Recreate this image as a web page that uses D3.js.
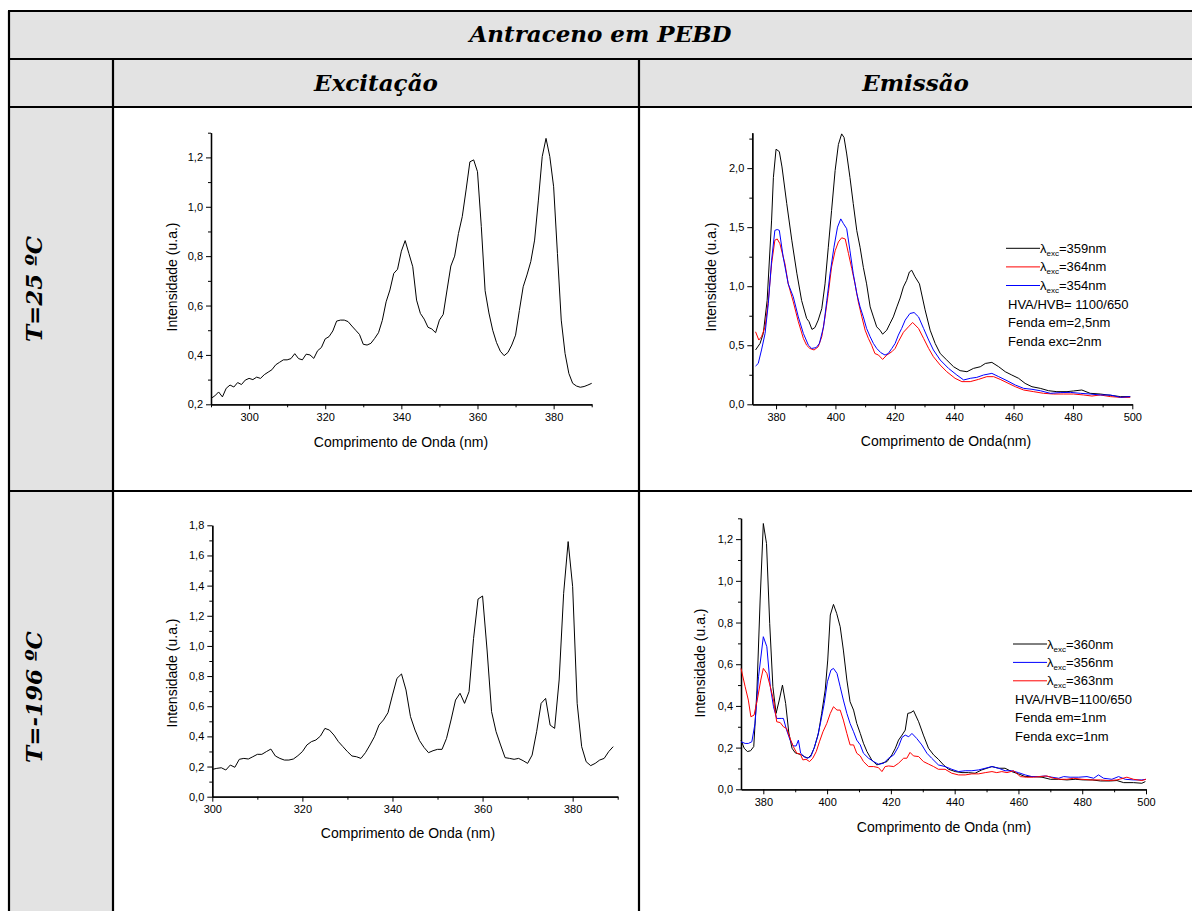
<!DOCTYPE html>
<html>
<head>
<meta charset="utf-8">
<script src="https://cdn.jsdelivr.net/npm/d3@7"></script>
<style>
  body { margin: 0; background: #fff; }
  svg { display: block; }
</style>
</head>
<body>
<svg id="fig" width="1192" height="911"></svg>
<script>
// ---------- Excitation spectrum, T = 25 ºC (wavelength nm, intensity u.a.) ----------
const exc25 = [
  [290,0.224],[291,0.234],[292,0.25],[293,0.23],[294,0.265],[295,0.278],[296,0.27],[297,0.288],[298,0.28],[299,0.298],
  [300,0.305],[301,0.3],[302,0.31],[303,0.305],[304,0.32],[305,0.33],[306,0.34],[307,0.36],[308,0.37],[309,0.38],
  [310,0.38],[311,0.385],[312,0.405],[313,0.385],[314,0.38],[315,0.403],[316,0.4],[317,0.386],[318,0.417],[319,0.43],
  [320,0.465],[321,0.474],[322,0.497],[323,0.537],[324,0.541],[325,0.541],[326,0.535],[327,0.517],[328,0.5],[329,0.483],
  [330,0.443],[331,0.44],[332,0.447],[333,0.467],[334,0.49],[335,0.54],[336,0.615],[337,0.663],[338,0.73],[339,0.747],
  [340,0.82],[341,0.863],[342,0.81],[343,0.757],[344,0.622],[345,0.568],[346,0.545],[347,0.512],[348,0.505],[349,0.49],
  [350,0.541],[351,0.564],[352,0.663],[353,0.76],[354,0.8],[355,0.892],[356,0.96],[357,1.068],[358,1.182],[359,1.19],
  [360,1.142],[361,0.92],[362,0.66],[363,0.57],[364,0.5],[365,0.45],[366,0.415],[367,0.397],[368,0.41],[369,0.44],
  [370,0.48],[371,0.58],[372,0.676],[373,0.724],[374,0.778],[375,0.865],[376,1.027],[377,1.203],[378,1.277],[379,1.203],
  [380,1.081],[381,0.811],[382,0.541],[383,0.406],[384,0.325],[385,0.285],[386,0.274],[387,0.269],[388,0.272],[389,0.278],
  [390,0.285]
];

// ---------- Emission spectra, T = 25 ºC ----------
const em25_359 = [
  [373.1,0.46],[374.6,0.515],[375.7,0.6],[377,0.88],[378.5,1.56],[379.1,1.92],[380,2.16],[381.1,2.14],[382,2.01],[383.6,1.7],
  [385.3,1.39],[387,1.11],[388.6,0.88],[390.3,0.727],[391.1,0.7],[392.1,0.634],[393.1,0.65],[394.2,0.713],[395.4,0.81],[396.5,1.02],
  [397.6,1.33],[398.7,1.64],[399.9,1.98],[401,2.2],[402.1,2.29],[402.9,2.26],[403.8,2.12],[404.9,1.92],[406,1.7],[407.2,1.47],
  [408.3,1.33],[409.4,1.16],[410.5,1.02],[411.7,0.825],[412.8,0.74],[413.9,0.656],[415,0.628],[415.9,0.594],[417.3,0.628],[418.4,0.685],
  [419.5,0.74],[420.7,0.825],[421.8,0.9],[422.9,0.994],[424,1.05],[424.9,1.12],[425.7,1.135],[426.8,1.08],[428.3,1.02],[430.2,0.8],
  [431.9,0.628],[433.6,0.515],[435.3,0.43],[437.5,0.375],[439.8,0.318],[442,0.285],[444.3,0.276],[446.5,0.304],[448.8,0.318],[450.5,0.346],
  [452.7,0.355],[455,0.318],[457.2,0.276],[459.4,0.248],[461.7,0.22],[463.9,0.177],[466.2,0.149],[469,0.135],[471.8,0.115],[474.6,0.107],
  [478,0.107],[480.2,0.113],[483,0.121],[485.8,0.093],[489.2,0.087],[492.6,0.076],[496,0.065],[499.3,0.065]
];
const em25_364 = [
  [373.1,0.614],[374.2,0.544],[375.1,0.572],[376.3,0.656],[377.4,0.88],[378.5,1.19],[379.6,1.39],[380.4,1.4],[381.3,1.36],[383,1.19],
  [384.1,1.02],[385.8,0.868],[387.5,0.7],[389.2,0.558],[390.3,0.5],[391.4,0.473],[392.8,0.46],[394.2,0.487],[395.4,0.572],[396.5,0.74],
  [397.6,0.938],[398.7,1.163],[399.9,1.3],[401,1.375],[402.1,1.41],[403.3,1.4],[404.4,1.276],[405.5,1.15],[406.6,1.02],[407.7,0.868],
  [408.9,0.74],[410,0.628],[411.1,0.558],[412.2,0.5],[413.3,0.43],[414.5,0.417],[415.9,0.38],[417.3,0.417],[419,0.445],[420.1,0.473],
  [421.2,0.53],[422.9,0.61],[424.6,0.656],[426,0.693],[428,0.642],[429.7,0.558],[431.4,0.473],[433,0.403],[435.3,0.332],[437.5,0.276],
  [440.3,0.22],[442.6,0.192],[445.4,0.192],[448.2,0.211],[451,0.234],[453.3,0.234],[455.5,0.211],[457.8,0.183],[460.6,0.149],[463.4,0.121],
  [466.8,0.107],[470.1,0.093],[473.5,0.087],[476.9,0.087],[480.2,0.087],[483.6,0.079],[486.4,0.07],[489.2,0.079],[492.6,0.065],[496,0.059],
  [499.3,0.059]
];
const em25_354 = [
  [373.1,0.324],[374,0.346],[375.1,0.46],[376.3,0.6],[377.4,0.853],[378.5,1.22],[379.6,1.473],[380.4,1.48],[381.1,1.473],[382.4,1.248],
  [384.1,1.02],[385.8,0.91],[387.5,0.74],[389.2,0.6],[390.9,0.5],[392,0.473],[393.5,0.48],[394.6,0.515],[396,0.656],[397.1,0.88],
  [398.2,1.107],[399.5,1.33],[400.7,1.5],[401.8,1.57],[402.7,1.53],[403.8,1.487],[404.9,1.3],[406,1.107],[407.2,0.938],[408.3,0.825],
  [409.4,0.74],[410.5,0.642],[411.7,0.572],[412.8,0.515],[413.9,0.473],[415.3,0.437],[416.7,0.417],[417.8,0.43],[419,0.473],[420.1,0.515],
  [421.2,0.586],[422.3,0.642],[423.5,0.713],[425.1,0.769],[426.5,0.777],[428,0.74],[429.7,0.642],[431.4,0.544],[433,0.46],[435.3,0.375],
  [438.1,0.304],[440.9,0.248],[443.2,0.206],[445.4,0.22],[447.6,0.228],[449.9,0.248],[452.7,0.262],[455,0.234],[457.8,0.2],[460.6,0.163],
  [463.4,0.135],[466.2,0.127],[469,0.115],[472.4,0.093],[475.7,0.099],[479.1,0.101],[482.5,0.093],[485.8,0.087],[489.2,0.079],[492.6,0.079],
  [496,0.059],[499.3,0.065]
];

// ---------- Excitation spectrum, T = -196 ºC ----------
const exc196 = [
  [300,0.181],[301,0.188],[302,0.192],[303,0.177],[304,0.21],[305,0.195],[306,0.248],[307,0.254],[308,0.25],[309,0.265],
  [310,0.281],[311,0.281],[312,0.299],[313,0.316],[314,0.27],[315,0.254],[316,0.243],[317,0.243],[318,0.25],[319,0.272],
  [320,0.299],[321,0.343],[322,0.365],[323,0.376],[324,0.402],[325,0.453],[326,0.442],[327,0.409],[328,0.365],[329,0.332],
  [330,0.299],[331,0.27],[332,0.265],[333,0.254],[334,0.292],[335,0.343],[336,0.398],[337,0.475],[338,0.509],[339,0.557],
  [340,0.674],[341,0.785],[342,0.814],[343,0.708],[344,0.531],[345,0.442],[346,0.372],[347,0.327],[348,0.292],[349,0.305],
  [350,0.314],[351,0.314],[352,0.387],[353,0.509],[354,0.641],[355,0.686],[356,0.619],[357,0.697],[358,1.05],[359,1.311],
  [360,1.331],[361,0.973],[362,0.564],[363,0.431],[364,0.343],[365,0.259],[366,0.254],[367,0.248],[368,0.254],[369,0.239],
  [370,0.221],[371,0.276],[372,0.431],[373,0.619],[374,0.652],[375,0.475],[376,0.453],[377,0.774],[378,1.349],[379,1.692],
  [380,1.393],[381,0.619],[382,0.332],[383,0.232],[384,0.206],[385,0.221],[386,0.243],[387,0.254],[388,0.299],[389,0.332]
];

// ---------- Emission spectra, T = -196 ºC ----------
const em196_360 = [
  [373,0.236],[374,0.197],[375,0.181],[376,0.185],[377,0.205],[378,0.476],[379,0.908],[380,1.275],[381,1.179],[382,0.796],
  [383,0.492],[384,0.364],[385,0.428],[386,0.5],[387,0.412],[388,0.27],[389,0.197],[390,0.175],[391,0.17],[392,0.165],
  [393,0.155],[394,0.15],[395,0.165],[396,0.2],[397.3,0.27],[398.3,0.364],[399.4,0.476],[400.2,0.62],[401,0.836],[402,0.887],
  [403,0.844],[404.1,0.78],[405.1,0.668],[406.2,0.524],[407.2,0.42],[408.3,0.38],[409.3,0.316],[410.4,0.268],[411.4,0.221],[412.5,0.181],
  [414,0.141],[415.6,0.117],[417.2,0.125],[418.8,0.133],[420.3,0.165],[421.4,0.197],[422.4,0.236],[423.5,0.26],[424.5,0.284],[425.3,0.364],
  [426.3,0.368],[427.1,0.377],[428.7,0.324],[430.2,0.26],[431.8,0.197],[433.4,0.165],[434.9,0.144],[436.5,0.117],[438.1,0.096],[440.2,0.085],
  [442.3,0.08],[444.3,0.08],[446.4,0.077],[448.5,0.093],[450.1,0.101],[451.7,0.109],[453.8,0.101],[455.8,0.101],[457.9,0.085],[460,0.074],
  [462.1,0.061],[464.7,0.061],[467.4,0.058],[470,0.048],[472.6,0.048],[475.2,0.045],[477.8,0.048],[480.4,0.045],[483.1,0.045],[485.7,0.04],
  [488.8,0.04],[490.9,0.042],[493,0.032],[496.1,0.032],[498.7,0.029],[499.8,0.037]
];
const em196_356 = [
  [373,0.228],[374.3,0.22],[375.3,0.22],[376.4,0.228],[377.4,0.316],[378.5,0.54],[380,0.732],[381.1,0.684],[382.2,0.492],[383.2,0.396],
  [384.2,0.34],[385.8,0.34],[386.3,0.34],[387.3,0.284],[388.4,0.236],[389.4,0.208],[390.3,0.208],[391,0.236],[391.7,0.173],[392.8,0.157],
  [393.8,0.149],[394.9,0.157],[395.9,0.197],[397,0.252],[398,0.324],[399.1,0.412],[400.1,0.516],[401.2,0.572],[402,0.58],[403.1,0.556],
  [404.1,0.492],[405.1,0.428],[406.2,0.364],[407.2,0.316],[408.3,0.276],[409.3,0.236],[410.4,0.213],[411.4,0.173],[413,0.149],[414.6,0.133],
  [416.1,0.12],[417.7,0.125],[419.3,0.149],[420.9,0.165],[422.4,0.205],[423.5,0.249],[424.5,0.26],[425.6,0.252],[426.6,0.268],[428.1,0.244],
  [429.7,0.213],[431.3,0.173],[432.8,0.149],[434.9,0.117],[437,0.109],[439.1,0.096],[441.2,0.085],[443.3,0.089],[445.4,0.089],[447.5,0.093],
  [449.6,0.101],[451.7,0.109],[453.8,0.101],[455.8,0.089],[457.9,0.089],[460,0.08],[462.1,0.069],[464.2,0.061],[466.3,0.061],[468.4,0.064],
  [470.5,0.058],[472.6,0.053],[474.2,0.061],[476.2,0.058],[478.9,0.058],[481.5,0.061],[483.6,0.053],[485.1,0.069],[486.7,0.053],[489.3,0.048],
  [491.4,0.061],[493.5,0.048],[496.1,0.045],[498.7,0.045],[500,0.048]
];
const em196_363 = [
  [373,0.58],[374.3,0.492],[375.3,0.428],[376.1,0.348],[377.1,0.356],[378.1,0.428],[379.2,0.524],[380,0.58],[381.1,0.556],[382.2,0.492],
  [383.2,0.428],[384.2,0.324],[385.3,0.32],[386.3,0.3],[387.3,0.292],[388.4,0.244],[389.4,0.205],[390.5,0.173],[391.6,0.169],[392.4,0.141],
  [393.4,0.144],[394.5,0.133],[395.5,0.149],[396.6,0.181],[397.6,0.228],[398.7,0.276],[399.9,0.316],[401,0.364],[402,0.396],[403.1,0.38],
  [404.1,0.38],[405.1,0.332],[406.2,0.268],[407.2,0.213],[408.3,0.213],[409.3,0.173],[410.4,0.16],[411.4,0.133],[413,0.109],[414.6,0.109],
  [416.1,0.104],[417.2,0.085],[418.2,0.109],[419.3,0.112],[420.9,0.109],[422.4,0.125],[424,0.149],[425,0.149],[426,0.177],[427.1,0.16],
  [428.7,0.157],[430.2,0.133],[431.8,0.121],[433.4,0.109],[434.9,0.096],[437,0.096],[439.1,0.077],[441.2,0.069],[443.3,0.069],[445.4,0.074],
  [447.5,0.074],[449.6,0.08],[451.7,0.085],[453.2,0.08],[454.8,0.085],[456.4,0.08],[458.5,0.089],[460.6,0.061],[462.6,0.058],[464.7,0.058],
  [466.8,0.061],[468.9,0.064],[471,0.053],[473.1,0.048],[475.2,0.048],[477.3,0.053],[479.9,0.048],[482.5,0.045],[485.7,0.045],[488.3,0.042],
  [490.9,0.045],[494,0.058],[496.1,0.048],[498.7,0.042],[500,0.048]
];

// ---------- Axis ticks ----------
const exc25XTicks = [300, 320, 340, 360, 380];
const exc25XMinor = [290, 310, 330, 350, 370, 390];
const exc25YTicks = [0.2, 0.4, 0.6, 0.8, 1.0, 1.2];
const exc25YMinor = [0.3, 0.5, 0.7, 0.9, 1.1, 1.3];

const em25XTicks = [380, 400, 420, 440, 460, 480, 500];
const em25XMinor = [390, 410, 430, 450, 470, 490];
const em25YTicks = [0.0, 0.5, 1.0, 1.5, 2.0];
const em25YMinor = [0.25, 0.75, 1.25, 1.75, 2.25];

const exc196XTicks = [300, 320, 340, 360, 380];
const exc196XMinor = [310, 330, 350, 370, 390];
const exc196YTicks = [0.0, 0.2, 0.4, 0.6, 0.8, 1.0, 1.2, 1.4, 1.6, 1.8];
const exc196YMinor = [0.1, 0.3, 0.5, 0.7, 0.9, 1.1, 1.3, 1.5, 1.7];

const em196XTicks = [380, 400, 420, 440, 460, 480, 500];
const em196XMinor = [390, 410, 430, 450, 470, 490];
const em196YTicks = [0.0, 0.2, 0.4, 0.6, 0.8, 1.0, 1.2];
const em196YMinor = [0.1, 0.3, 0.5, 0.7, 0.9, 1.1, 1.3];

// ---------- Texts ----------
const tableTitle = "Antraceno em PEBD";
const columnTitles = ["Excitação", "Emissão"];
const rowTitles = ["T=25 ºC", "T=-196 ºC"];
const legend25 = [
  { label: "=359nm", color: "#000000", data: em25_359 },
  { label: "=364nm", color: "#ff0000", data: em25_364 },
  { label: "=354nm", color: "#0000ff", data: em25_354 }
];
const notes25 = ["HVA/HVB= 1100/650", "Fenda em=2,5nm", "Fenda exc=2nm"];
const legend196 = [
  { label: "=360nm", color: "#000000", data: em196_360 },
  { label: "=356nm", color: "#0000ff", data: em196_356 },
  { label: "=363nm", color: "#ff0000", data: em196_363 }
];
const notes196 = ["HVA/HVB=1100/650", "Fenda em=1nm", "Fenda exc=1nm"];

// ---------- Drawing ----------
const svg = d3.select("#fig");
const sans = "'Liberation Sans', Arial, sans-serif";
const heading = "'DejaVu Serif', serif";
const gray = "#e3e3e3";

// table frame
const T = { left: 9, right: 1192, top: 11, r1: 59, r2: 107, r3: 491, bottom: 911, c1: 113, c2: 639 };
svg.append("rect").attr("x", T.left).attr("y", T.top).attr("width", T.right - T.left).attr("height", T.r2 - T.top).attr("fill", gray);
svg.append("rect").attr("x", T.left).attr("y", T.r2).attr("width", T.c1 - T.left).attr("height", T.bottom - T.r2).attr("fill", gray);

const rules = svg.append("g").attr("stroke", "#000").attr("stroke-width", 2.2);
[T.top, T.r1, T.r2, T.r3].forEach(yv =>
  rules.append("line").attr("x1", T.left - 1).attr("x2", T.right).attr("y1", yv).attr("y2", yv));
rules.append("line").attr("x1", T.left).attr("x2", T.left).attr("y1", T.top).attr("y2", T.bottom);
[T.c1, T.c2].forEach(xv =>
  rules.append("line").attr("x1", xv).attr("x2", xv).attr("y1", T.r1).attr("y2", T.bottom));

function headingText(x, y, txt, rotate) {
  const t = svg.append("text")
    .attr("font-family", heading).attr("font-weight", "bold").attr("font-style", "italic")
    .attr("font-size", 23).attr("text-anchor", "middle").attr("fill", "#000")
    .text(txt);
  if (rotate) t.attr("transform", `translate(${x},${y}) rotate(-90)`);
  else t.attr("x", x).attr("y", y);
}
headingText((T.left + T.right) / 2, 42, tableTitle);
headingText((T.c1 + T.c2) / 2, 91, columnTitles[0]);
headingText((T.c2 + T.right) / 2, 91, columnTitles[1]);
headingText(42, 289, rowTitles[0], true);
headingText(42, 697, rowTitles[1], true);

const commaFmt = d => d3.format(".1f")(d).replace(".", ",");

function drawPanel(p) {
  const x = d3.scaleLinear().domain(p.xDomain).range([p.left, p.right]);
  const y = d3.scaleLinear().domain(p.yDomain).range([p.bottom, p.top]);
  const g = svg.append("g");

  // minor ticks
  g.append("g").attr("transform", `translate(0,${p.bottom})`)
    .call(d3.axisBottom(x).tickValues(p.xMinor).tickSize(3).tickSizeOuter(0).tickFormat(""));
  g.append("g").attr("transform", `translate(${p.left},0)`)
    .call(d3.axisLeft(y).tickValues(p.yMinor).tickSize(3).tickSizeOuter(0).tickFormat(""));
  // major ticks with labels
  g.append("g").attr("transform", `translate(0,${p.bottom})`)
    .call(d3.axisBottom(x).tickValues(p.xTicks).tickSize(5).tickSizeOuter(0).tickPadding(4).tickFormat(d3.format("d")));
  g.append("g").attr("transform", `translate(${p.left},0)`)
    .call(d3.axisLeft(y).tickValues(p.yTicks).tickSize(5).tickSizeOuter(0).tickPadding(3).tickFormat(commaFmt));

  g.selectAll(".domain").attr("stroke", "#000").attr("stroke-width", 1.3);
  g.selectAll(".tick line").attr("stroke", "#000").attr("stroke-width", 1);
  g.selectAll(".tick text").attr("font-family", sans).attr("font-size", 11).attr("fill", "#000");

  // axis titles
  g.append("text").attr("transform", `translate(${p.yTitle[0]},${p.yTitle[1]}) rotate(-90)`)
    .attr("text-anchor", "middle").attr("dy", "0.35em")
    .attr("font-family", sans).attr("font-size", 14).attr("fill", "#000")
    .text("Intensidade (u.a.)");
  g.append("text").attr("x", p.xTitle[0]).attr("y", p.xTitle[1])
    .attr("text-anchor", "middle").attr("dy", "0.35em")
    .attr("font-family", sans).attr("font-size", 14).attr("fill", "#000")
    .text(p.xLabel);

  // spectra
  const line = d3.line().x(d => x(d[0])).y(d => y(d[1]));
  p.series.forEach(s => {
    g.append("path").datum(s.data).attr("d", line)
      .attr("fill", "none").attr("stroke", s.color).attr("stroke-width", 1)
      .attr("stroke-linejoin", "round");
  });

  // legend
  if (p.legend) {
    const L = p.legend;
    p.series.forEach((s, i) => {
      const yy = L.y + i * L.step;
      g.append("line").attr("x1", L.x).attr("x2", L.x + L.len).attr("y1", yy).attr("y2", yy)
        .attr("stroke", s.color).attr("stroke-width", 1);
      const t = g.append("text").attr("x", L.x + L.len).attr("y", yy + 4.5)
        .attr("font-family", sans).attr("font-size", 13).attr("fill", "#000");
      t.append("tspan").text("λ");
      t.append("tspan").attr("font-size", 8).attr("dy", 3).text("exc");
      t.append("tspan").attr("dy", -3).text(s.label);
    });
    L.notes.forEach((n, i) => {
      g.append("text").attr("x", L.x + 2).attr("y", L.y + (3 + i) * L.step + 4.5)
        .attr("font-family", sans).attr("font-size", 13).attr("fill", "#000").text(n);
    });
  }
}

drawPanel({
  xDomain: [290, 390], yDomain: [0.2, 1.3],
  left: 211, right: 591.7, bottom: 404.3, top: 132.7,
  xTicks: exc25XTicks, xMinor: exc25XMinor, yTicks: exc25YTicks, yMinor: exc25YMinor,
  yTitle: [172, 277], xTitle: [401, 442], xLabel: "Comprimento de Onda (nm)",
  series: [{ data: exc25, color: "#000" }]
});

drawPanel({
  xDomain: [372, 500], yDomain: [0, 2.3],
  left: 752.3, right: 1132.3, bottom: 404.3, top: 132.7,
  xTicks: em25XTicks, xMinor: em25XMinor, yTicks: em25YTicks, yMinor: em25YMinor,
  yTitle: [711, 277], xTitle: [946, 441], xLabel: "Comprimento de Onda(nm)",
  series: legend25,
  legend: { x: 1006, y: 248.3, step: 18.6, len: 34, notes: notes25 }
});

drawPanel({
  xDomain: [300, 390], yDomain: [0, 1.8],
  left: 212.3, right: 617.7, bottom: 796.7, top: 525.3,
  xTicks: exc196XTicks, xMinor: exc196XMinor, yTicks: exc196YTicks, yMinor: exc196YMinor,
  yTitle: [172, 673], xTitle: [408, 833], xLabel: "Comprimento de Onda (nm)",
  series: [{ data: exc196, color: "#000" }]
});

drawPanel({
  xDomain: [373, 500], yDomain: [0, 1.3],
  left: 741, right: 1146, bottom: 789.3, top: 518.3,
  xTicks: em196XTicks, xMinor: em196XMinor, yTicks: em196YTicks, yMinor: em196YMinor,
  yTitle: [700, 663], xTitle: [944, 827], xLabel: "Comprimento de Onda (nm)",
  series: legend196,
  legend: { x: 1013, y: 644, step: 18.4, len: 34, notes: notes196 }
});
</script>
</body>
</html>
